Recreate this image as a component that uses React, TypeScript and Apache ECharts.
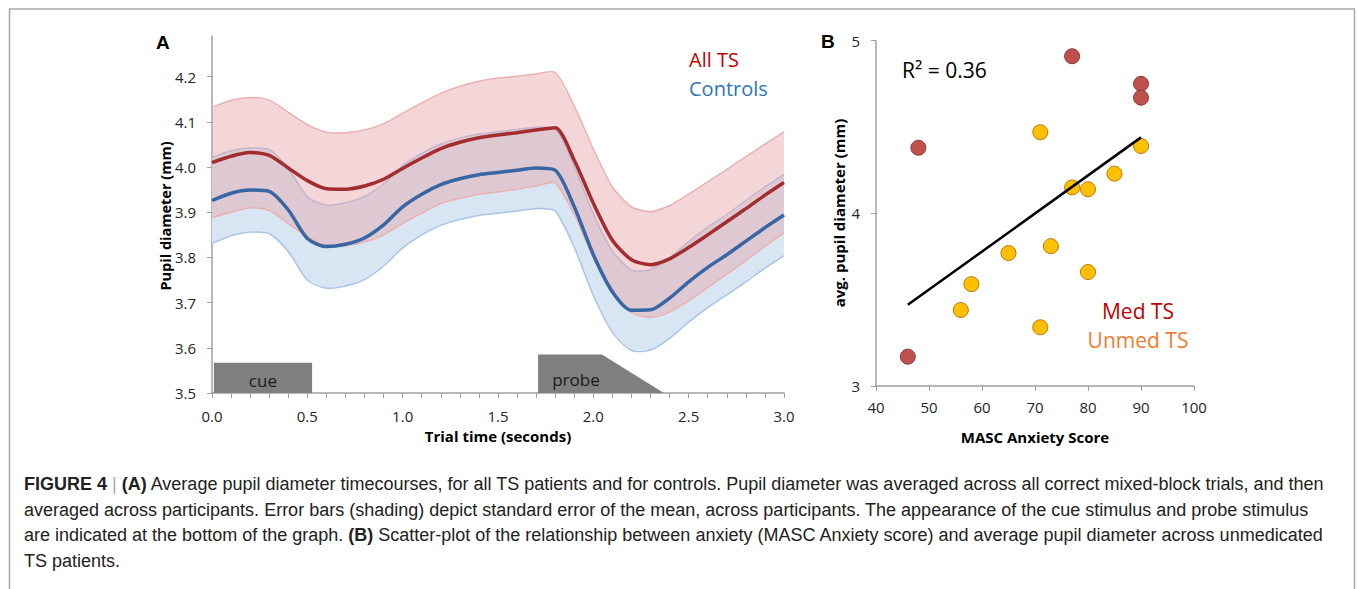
import React, { useEffect, useRef } from "react";
import * as echarts from "echarts";

// ---------- Panel A data ----------
const timeS = [0.0, 0.1, 0.2, 0.3, 0.4, 0.5, 0.6, 0.7, 0.8, 0.9, 1.0, 1.1, 1.2, 1.3, 1.4, 1.5, 1.6, 1.7, 1.8, 1.9, 2.0, 2.1, 2.2, 2.3, 2.4, 2.5, 2.6, 2.7, 2.8, 2.9, 3.0];
const allTSMean = [4.010, 4.024, 4.032, 4.026, 3.998, 3.970, 3.952, 3.951, 3.958, 3.973, 3.997, 4.020, 4.041, 4.055, 4.065, 4.071, 4.076, 4.082, 4.087, 4.015, 3.920, 3.838, 3.795, 3.784, 3.797, 3.822, 3.850, 3.879, 3.908, 3.938, 3.966];
const allTSSE = [0.122, 0.124, 0.122, 0.122, 0.123, 0.124, 0.125, 0.125, 0.124, 0.123, 0.122, 0.122, 0.122, 0.124, 0.125, 0.126, 0.125, 0.124, 0.122, 0.120, 0.120, 0.118, 0.117, 0.117, 0.118, 0.118, 0.117, 0.116, 0.115, 0.113, 0.112];
const controlsMean = [3.926, 3.942, 3.949, 3.946, 3.905, 3.842, 3.824, 3.829, 3.843, 3.872, 3.912, 3.940, 3.961, 3.974, 3.983, 3.988, 3.993, 3.998, 3.993, 3.912, 3.806, 3.724, 3.683, 3.684, 3.710, 3.746, 3.778, 3.806, 3.836, 3.866, 3.894];
const controlsSE = [0.095, 0.094, 0.093, 0.093, 0.092, 0.092, 0.092, 0.092, 0.092, 0.091, 0.091, 0.090, 0.090, 0.090, 0.090, 0.090, 0.090, 0.090, 0.090, 0.090, 0.090, 0.090, 0.089, 0.089, 0.089, 0.089, 0.089, 0.089, 0.090, 0.090, 0.090];
const pupilTicks = [3.5, 3.6, 3.7, 3.8, 3.9, 4.0, 4.1, 4.2];
const stimulusLabels = ["cue", "probe"];
const stimulusShapes = [
  [[0.01, 3.5], [0.01, 3.567], [0.525, 3.567], [0.525, 3.5]],
  [[1.71, 3.5], [1.71, 3.585], [2.045, 3.585], [2.37, 3.5]],
];
const stimulusLabelPos = [[0.267, 3.528], [1.909, 3.53]];

// ---------- Panel B data ----------
const medTS = [[46, 3.17], [48, 4.38], [77, 4.91], [90, 4.75], [90, 4.67]];
const unmedTS = [[56, 3.44], [58, 3.59], [65, 3.77], [71, 3.34], [71, 4.47], [73, 3.81], [77, 4.15], [80, 3.66], [80, 4.14], [85, 4.23], [90, 4.39]];
const trendLine = [[46, 3.47], [90, 4.44]];

const OS = "'Open Sans', sans-serif";
const AR = "'Liberation Sans', Arial, sans-serif";

function bandSeries(mean: number[], se: number[], fill: string, edge: string, z: number) {
  return {
    type: "custom",
    xAxisIndex: 0,
    yAxisIndex: 0,
    z,
    silent: true,
    data: [[timeS[0], mean[0]]],
    renderItem: (_params: any, api: any) => {
      const upper = timeS.map((t, i) => api.coord([t, mean[i] + se[i]]));
      const lower = timeS.map((t, i) => api.coord([t, mean[i] - se[i]]));
      return {
        type: "group",
        children: [
          { type: "polygon", shape: { points: upper.concat(lower.slice().reverse()) }, style: { fill } },
          { type: "polyline", shape: { points: upper, smooth: 0.25 }, style: { stroke: edge, lineWidth: 1.5, fill: "none" } },
          { type: "polyline", shape: { points: lower, smooth: 0.25 }, style: { stroke: edge, lineWidth: 1.5, fill: "none" } },
        ],
      };
    },
  };
}

export default function App() {
  const ref = useRef<HTMLDivElement>(null);
  useEffect(() => {
    const chart = echarts.init(ref.current!, null, { renderer: "svg" });
    const axisGray = "#a0a0a0";
    const labelStyle = { fontSize: 15, color: "#262626", fontFamily: OS };
    const capSize = 18;

    const captionRich = {
      b: { fontWeight: "bold", fontSize: capSize, fontFamily: AR, fill: "#222" },
      g: { fontSize: capSize, fontFamily: AR, fill: "#aaa" },
    };
    const capLine = (text: string, y: number) => ({
      type: "text",
      x: 24,
      y,
      style: {
        text,
        rich: captionRich,
        fontSize: capSize,
        fontFamily: AR,
        fill: "#222",
        align: "left",
        verticalAlign: "middle",
      },
    });
    const txt = (text: string, x: number, y: number, extra: any = {}, rotation = 0) => ({
      type: "text",
      x,
      y,
      rotation,
      style: { text, fontFamily: OS, fontSize: 15, fill: "#111", align: "center", verticalAlign: "middle", ...extra },
    });

    const option: any = {
      animation: false,
      grid: [
        { left: 212, top: 36, width: 572, height: 357 },
        { left: 876, top: 40.7, width: 318, height: 345.3 },
      ],
      xAxis: [
        {
          type: "value", gridIndex: 0, min: 0, max: 3, interval: 0.5,
          axisLine: { lineStyle: { color: axisGray, width: 1.5 } },
          axisTick: { show: true, length: 5, lineStyle: { color: axisGray } },
          minorTick: { show: true, splitNumber: 5, length: 5, lineStyle: { color: axisGray } },
          splitLine: { show: false },
          axisLabel: { ...labelStyle, margin: 15, formatter: (v: number) => v.toFixed(1) },
        },
        {
          type: "value", gridIndex: 1, min: 40, max: 100, interval: 10,
          axisLine: { lineStyle: { color: axisGray, width: 1.5 } },
          axisTick: { show: true, length: 5, lineStyle: { color: axisGray } },
          splitLine: { show: false },
          axisLabel: { ...labelStyle, margin: 13 },
        },
      ],
      yAxis: [
        {
          type: "value", gridIndex: 0, min: 3.5, max: 4.29, interval: 0.1,
          axisLine: { show: true, lineStyle: { color: axisGray, width: 1.5 } },
          axisTick: { show: true, length: 5, lineStyle: { color: axisGray }, customValues: pupilTicks },
          splitLine: { show: false },
          axisLabel: { ...labelStyle, margin: 16, customValues: pupilTicks, formatter: (v: number) => v.toFixed(1) },
        },
        {
          type: "value", gridIndex: 1, min: 3, max: 5, interval: 1,
          axisLine: { show: true, lineStyle: { color: axisGray, width: 1.5 } },
          axisTick: { show: true, length: 5, lineStyle: { color: axisGray } },
          splitLine: { show: false },
          axisLabel: { ...labelStyle, margin: 16 },
        },
      ],
      series: [
        bandSeries(controlsMean, controlsSE, "#d8e5f2", "#aac4e5", 1),
        bandSeries(allTSMean, allTSSE, "rgba(230,165,168,0.45)", "#ebb1b1", 2),
        {
          type: "line", name: "Controls", xAxisIndex: 0, yAxisIndex: 0,
          data: timeS.map((t, i) => [t, controlsMean[i]]),
          symbol: "none", smooth: 0.25, lineStyle: { color: "#3766a4", width: 3.5 }, z: 3,
        },
        {
          type: "line", name: "All TS", xAxisIndex: 0, yAxisIndex: 0,
          data: timeS.map((t, i) => [t, allTSMean[i]]),
          symbol: "none", smooth: 0.25, lineStyle: { color: "#a32d2e", width: 3.5 }, z: 4,
        },
        {
          type: "custom", name: "stimuli", xAxisIndex: 0, yAxisIndex: 0,
          data: stimulusShapes.map((s) => s[0]),
          z: 5,
          renderItem: (params: any, api: any) => {
            const shape = stimulusShapes[params.dataIndex];
            const pts = shape.map((p) => api.coord(p));
            const lp = api.coord(stimulusLabelPos[params.dataIndex]);
            return {
              type: "group",
              children: [
                { type: "polygon", shape: { points: pts }, style: { fill: "#7f7f7f" } },
                {
                  type: "text", x: lp[0], y: lp[1],
                  style: {
                    text: stimulusLabels[params.dataIndex], fill: "#1a1a1a",
                    font: "17px 'Open Sans', sans-serif", align: "center", verticalAlign: "middle",
                    textAlign: "center", textVerticalAlign: "middle",
                  },
                },
              ],
            };
          },
        },
        {
          type: "line", name: "trend", xAxisIndex: 1, yAxisIndex: 1, data: trendLine,
          symbol: "none", lineStyle: { color: "#000", width: 2.5 }, z: 6,
        },
        {
          type: "scatter", name: "Med TS", xAxisIndex: 1, yAxisIndex: 1, data: medTS,
          symbolSize: 15, itemStyle: { color: "#c0504d", borderColor: "#8c3a37", borderWidth: 1, opacity: 1 }, z: 5,
        },
        {
          type: "scatter", name: "Unmed TS", xAxisIndex: 1, yAxisIndex: 1, data: unmedTS,
          symbolSize: 15, itemStyle: { color: "#ffc000", borderColor: "#b9770c", borderWidth: 1, opacity: 1 }, z: 5,
        },
      ],
      graphic: [
        { type: "rect", z: -10, shape: { x: 9.5, y: 9, width: 1345, height: 700 }, style: { fill: "none", stroke: "#a8a8a8", lineWidth: 1.5 } },
        txt("A", 156, 42, { fontFamily: AR, fontWeight: "bold", fontSize: 19, align: "left", fill: "#000" }),
        txt("B", 821, 41, { fontFamily: AR, fontWeight: "bold", fontSize: 19, align: "left", fill: "#000" }),
        txt("All TS", 689, 59, { fontSize: 20, fill: "#c00000", align: "left" }),
        txt("Controls", 689, 88, { fontSize: 20, fill: "#2e75b6", align: "left" }),
        txt("R² = 0.36", 902, 70, { fontSize: 21, fill: "#000", align: "left" }),
        txt("Med TS", 1138, 311, { fontSize: 21, fill: "#c00000" }),
        txt("Unmed TS", 1138, 340, { fontSize: 21, fill: "#ed7d31" }),
        txt("Pupil diameter (mm)", 165, 216, { fontWeight: "bold", fontSize: 14.5, fill: "#000" }, Math.PI / 2),
        txt("Trial time (seconds)", 498, 436, { fontWeight: "bold", fontSize: 15, fill: "#000" }),
        txt("avg. pupil diameter (mm)", 839, 213, { fontWeight: "bold", fontSize: 15, fill: "#000" }, Math.PI / 2),
        txt("MASC Anxiety Score", 1035, 437, { fontWeight: "bold", fontSize: 15, fill: "#000" }),
        capLine("{b|FIGURE 4} {g||} {b|(A)} Average pupil diameter timecourses, for all TS patients and for controls. Pupil diameter was averaged across all correct mixed-block trials, and then", 484),
        capLine("averaged across participants. Error bars (shading) depict standard error of the mean, across participants. The appearance of the cue stimulus and probe stimulus", 510),
        capLine("are indicated at the bottom of the graph. {b|(B)} Scatter-plot of the relationship between anxiety (MASC Anxiety score) and average pupil diameter across unmedicated", 535),
        capLine("TS patients.", 561),
      ],
    };
    chart.setOption(option);
    return () => chart.dispose();
  }, []);
  return <div ref={ref} style={{ position: "absolute", left: 0, top: 0, width: 1358, height: 589 }} />;
}
